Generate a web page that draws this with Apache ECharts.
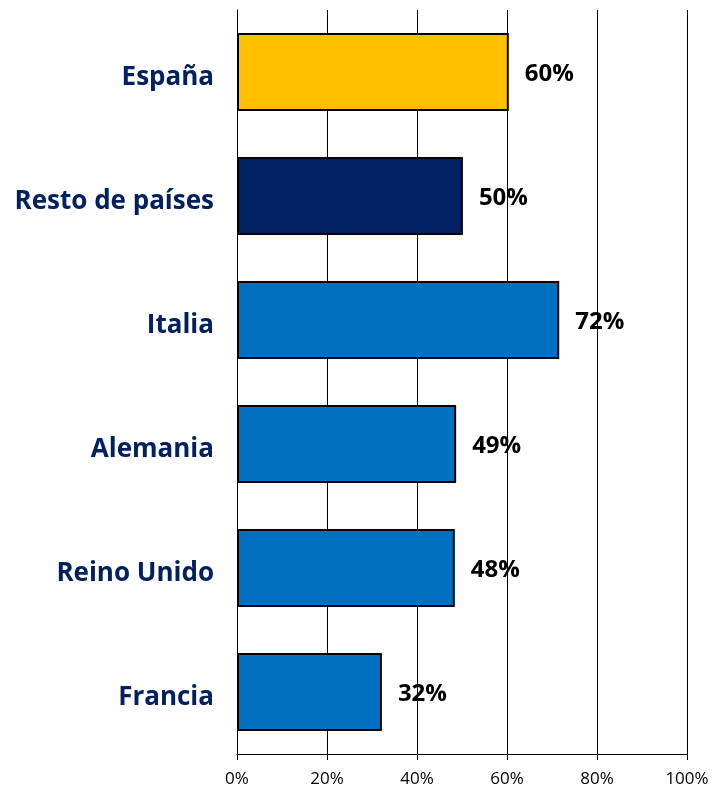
<!DOCTYPE html>
<html><head><meta charset="utf-8">
<script src="https://cdn.jsdelivr.net/npm/echarts@6/dist/echarts.min.js"></script>
<style>html,body{margin:0;padding:0;background:#fff}#c{width:714px;height:790px}</style>
</head><body><div id="c"></div>
<script>
const categories = ['España', 'Resto de países', 'Italia', 'Alemania', 'Reino Unido', 'Francia'];
const values = [60.4, 50.2, 71.6, 48.7, 48.4, 32.2];
const barColors = ['#FFC000', '#002060', '#0070C0', '#0070C0', '#0070C0', '#0070C0'];
const xTicks = [0, 20, 40, 60, 80, 100];

const chart = echarts.init(document.getElementById('c'));
chart.setOption({
  animation: false,
  grid: { left: 237, right: 27, top: 10, bottom: 36 },
  xAxis: {
    type: 'value', min: 0, max: 100, interval: 20,
    axisLine: { show: true, lineStyle: { color: '#000', width: 1 } },
    axisTick: { show: true, length: 6, lineStyle: { color: '#000' } },
    axisLabel: { formatter: v => v + '%', color: '#000', fontFamily: 'Open Sans', fontSize: 17, margin: 17 },
    splitLine: { show: true, lineStyle: { color: '#000', width: 1 } }
  },
  yAxis: {
    type: 'category', data: categories, inverse: true,
    axisLine: { show: true, lineStyle: { color: '#000' } },
    axisTick: { show: false },
    axisLabel: {
      margin: 23,
      formatter: v => '{a|' + v + '}',
      rich: { a: { color: '#002060', fontFamily: 'Open Sans', fontWeight: 'bold', fontSize: 26, lineHeight: 30, padding: [11, 0, 0, 0] } }
    }
  },
  series: [{
    type: 'bar',
    data: values.map((v, i) => ({ value: v, itemStyle: { color: barColors[i] } })),
    barWidth: '63%',
    itemStyle: { borderColor: '#000', borderWidth: 2 },
    label: {
      show: true, position: 'right', distance: 16,
      formatter: p => '{b|' + Math.round(p.value) + '%}',
      rich: { b: { color: '#000', fontFamily: 'Open Sans', fontWeight: 'bold', fontSize: 24, lineHeight: 28, padding: [4, 0, 0, 0] } }
    }
  }]
});
</script></body></html>
